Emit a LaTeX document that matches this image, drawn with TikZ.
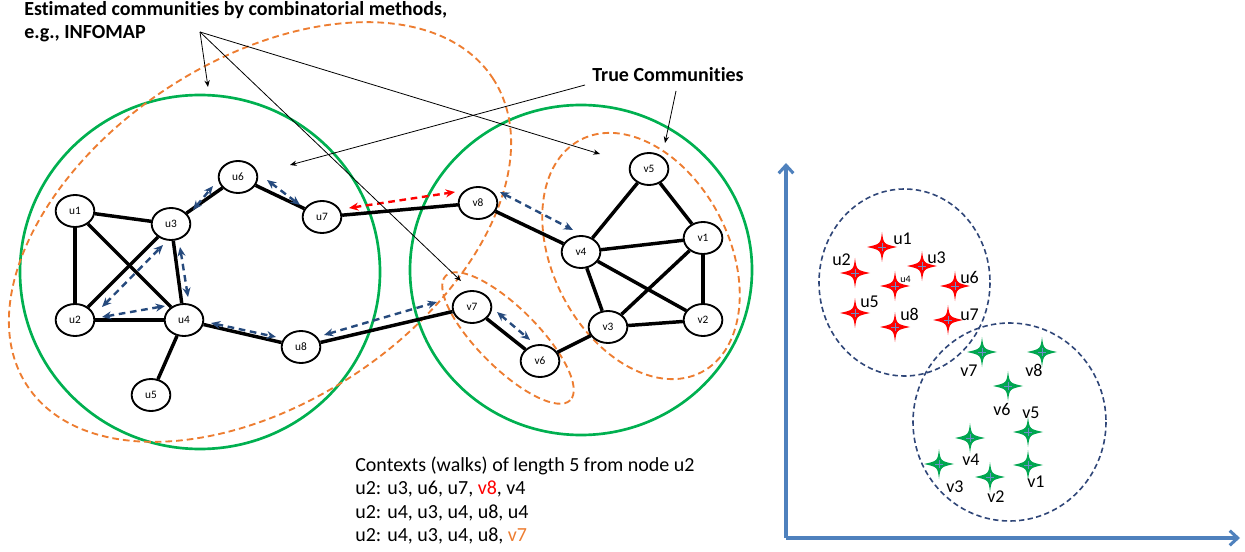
\documentclass[tikz,border=0pt]{standalone}
\usepackage{fontspec}
\setmainfont{Carlito}[Ligatures=NoCommon]
\usetikzlibrary{shapes.geometric,arrows.meta,calc}
\pgfdeclarelayer{bg}
\pgfdeclarelayer{edges}
\pgfsetlayers{bg,edges,main}
\definecolor{cgreen}{RGB}{0,176,80}
\definecolor{corange}{RGB}{237,125,49}
\definecolor{cwalk}{RGB}{38,74,125}
\definecolor{caxis}{RGB}{79,129,189}
\definecolor{cnavy}{RGB}{47,70,120}
\definecolor{cstarg}{RGB}{0,166,80}
\definecolor{cstarc}{RGB}{110,140,200}
\tikzset{
  gn/.style={ellipse,draw,line width=1.4pt,fill=white,minimum width=29pt,minimum height=24pt,inner sep=0pt,font=\fontsize{8.5pt}{10pt}\selectfont},
  edge/.style={line width=2.6pt},
  walk/.style={cwalk,line width=1.8pt,dash pattern=on 5pt off 3.5pt,{Stealth[length=7pt,width=6pt]}-{Stealth[length=7pt,width=6pt]}},
  redwalk/.style={walk,red},
  truec/.style={cgreen,line width=2pt},
  estc/.style={corange,line width=1.4pt,dash pattern=on 5pt off 3pt},
  note/.style={line width=0.6pt,-{Stealth[length=5pt,width=4pt]}},
  emb/.style={cnavy,line width=1.2pt,dash pattern=on 4pt off 2.5pt},
  axis/.style={caxis,line width=2.3pt,-{Straight Barb[length=6pt,width=11pt,line width=2.3pt]}},
  slab/.style={font=\fontsize{13.5pt}{15pt}\selectfont,inner sep=0pt},
  pics/fstar/.style={code={
    \fill[#1] (0,-15) .. controls (1.5,-3) .. (15,0) .. controls (1.5,3) .. (0,15)
      .. controls (-1.5,3) .. (-15,0) .. controls (-1.5,-3) .. cycle;
    \draw[cstarc,line width=0.5pt] (-4,0) -- (4,0) (0,-4) -- (0,4);
  }}
}
\begin{document}
\begin{tikzpicture}[x=0.75pt,y=-0.75pt]
\useasboundingbox (0,0) rectangle (1245,552);

\begin{pgfonlayer}{bg}
% true communities
\draw[truec] (200,272) ellipse [x radius=180, y radius=177];
\draw[truec] (581,270) ellipse [x radius=171, y radius=165];
% estimated communities
\draw[estc,rotate around={33.5:(260,232)}] (260,232) ellipse [x radius=279, y radius=171];
\draw[estc,rotate around={-45:(508,338)}] (508,338) ellipse [x radius=88, y radius=30];
\draw[estc,rotate around={27.5:(641,256)}] (641,256) ellipse [x radius=88, y radius=131];
\end{pgfonlayer}

% nodes
\node[gn] (u1) at (75,211) {u1};
\node[gn] (u3) at (171,224) {u3};
\node[gn] (u2) at (75,320) {u2};
\node[gn] (u4) at (184,320) {u4};
\node[gn] (u5) at (151,395) {u5};
\node[gn] (u8) at (301,347) {u8};
\node[gn] (u7) at (322,217) {u7};
\node[gn] (u6) at (238,177) {u6};
\node[gn] (v8) at (478,203) {v8};
\node[gn] (v4) at (581,252) {v4};
\node[gn] (v5) at (649,169) {v5};
\node[gn] (v1) at (703,238) {v1};
\node[gn] (v2) at (703,320) {v2};
\node[gn] (v3) at (608,327) {v3};
\node[gn] (v7) at (472,307) {v7};
\node[gn] (v6) at (540,361) {v6};

% edges
\begin{pgfonlayer}{edges}
\foreach \a/\b in {u1/u3,u1/u2,u1/u4,u2/u3,u2/u4,u3/u4,u3/u6,u6/u7,u7/v8,u4/u5,u4/u8,u8/v7,v7/v6,v6/v3,v8/v4,v4/v5,v5/v1,v4/v1,v4/v3,v4/v2,v3/v1,v1/v2,v3/v2}
  \draw[edge] (\a) -- (\b);
\end{pgfonlayer}

% walks
\draw[walk] ([shift={(22,-14)}]u3.center) -- ([shift={(-25,9)}]u6.center);
\draw[walk] ([shift={(29,3)}]u6.center) -- ([shift={(-22,-12)}]u7.center);
\draw[walk] ([shift={(27,-13)}]u2.center) -- ([shift={(-8,21)}]u3.center);
\draw[walk] ([shift={(9,23)}]u3.center) -- ([shift={(4,-23)}]u4.center);
\draw[walk] ([shift={(27,-3)}]u2.center) -- ([shift={(-19,-14)}]u4.center);
\draw[walk] ([shift={(27,3)}]u4.center) -- ([shift={(-25,-10)}]u8.center);
\draw[walk] ([shift={(23,-12)}]u8.center) -- ([shift={(-35,-5)}]v7.center);
\draw[walk] ([shift={(25,5)}]v7.center) -- ([shift={(-10,-21)}]v6.center);
\draw[walk] ([shift={(22,-11)}]v8.center) -- ([shift={(-8,-22)}]v4.center);
\draw[redwalk] ([shift={(27,-9)}]u7.center) -- ([shift={(-23,-11)}]v8.center);

% annotations
\node[anchor=base west,inner sep=0pt,font=\bfseries\fontsize{15pt}{17pt}\selectfont] (est1) at (24,16) {Estimated communities by combinatorial methods,};
\node[anchor=base west,inner sep=0pt,font=\bfseries\fontsize{15pt}{17pt}\selectfont] (est2) at (24,39) {e.g., INFOMAP};
\node[anchor=base west,inner sep=0pt,font=\bfseries\fontsize{15pt}{17pt}\selectfont] (tc) at (592,82) {True Communities};
\coordinate (ec) at (200,32);
\coordinate (ta) at (585,85);
\coordinate (tb) at (676,91);
\coordinate (ea1) at (208,87);
\coordinate (ea2) at (600,154);
\coordinate (ea3) at (461,281);
\coordinate (ta1) at (290,165);
\coordinate (tb1) at (665,143);
\draw[note] (ec) -- (ea1);
\draw[note] (ec) -- (ea2);
\draw[note] (ec) -- (ea3);
\draw[note] (ta) -- (ta1);
\draw[note] (tb) -- (tb1);

% contexts text
\node[anchor=base west,inner sep=0pt,font=\fontsize{15pt}{17pt}\selectfont] (c1) at (355,471) {Contexts (walks) of length 5 from node u2};
\node[anchor=base west,inner sep=0pt,font=\fontsize{15pt}{17pt}\selectfont] (c2) at (355,494.5) {u2: u3, u6, u7, \textcolor{red}{v8}, v4};
\node[anchor=base west,inner sep=0pt,font=\fontsize{15pt}{17pt}\selectfont] (c3) at (355,518) {u2: u4, u3, u4, u8, u4};
\node[anchor=base west,inner sep=0pt,font=\fontsize{15pt}{17pt}\selectfont] (c4) at (355,541.5) {u2: u4, u3, u4, u8, \textcolor{corange}{v7}};

% embedding space
\coordinate (o) at (786,538);
\coordinate (yt) at (786,163);
\coordinate (xt) at (1240,538);
\draw[axis] (o) -- (yt);
\draw[axis] (o) -- (xt);
\draw[emb] (904.5,282.5) ellipse [x radius=85.5, y radius=93.5];
\draw[emb] (1009.5,422) ellipse [x radius=96.5, y radius=99];

\foreach \p in {(882,247),(855,273),(922,266),(895,286),(955,286),(855,313),(895,327),(948,320)}
  \pic at \p {fstar=red};
\foreach \p in {(982,352),(1042,352),(1008,386),(1028,432),(970,438),(1028,465),(939,464),(990,477)}
  \pic at \p {fstar=cstarg};

\node[slab,anchor=base west] (lu1) at (893,245) {u1};
\node[slab,anchor=base west] (lu2) at (832,266) {u2};
\node[slab,anchor=base west] (lu3) at (927,263) {u3};
\node[anchor=base west,inner sep=0pt,font=\fontsize{7.5pt}{8pt}\selectfont] (lu4) at (900,282) {u4};
\node[slab,anchor=base west] (lu6) at (960,283) {u6};
\node[slab,anchor=base west] (lu5) at (860,307) {u5};
\node[slab,anchor=base west] (lu8) at (900,320) {u8};
\node[slab,anchor=base west] (lu7) at (960,320) {u7};
\node[slab,anchor=base west] (lv7) at (960,376) {v7};
\node[slab,anchor=base west] (lv8) at (1025,376) {v8};
\node[slab,anchor=base west] (lv6) at (993,415) {v6};
\node[slab,anchor=base west] (lv5) at (1022,418) {v5};
\node[slab,anchor=base west] (lv4) at (962,465) {v4};
\node[slab,anchor=base west] (lv1) at (1027,487) {v1};
\node[slab,anchor=base west] (lv3) at (946,492) {v3};
\node[slab,anchor=base west] (lv2) at (987,502) {v2};
\end{tikzpicture}
\end{document}
